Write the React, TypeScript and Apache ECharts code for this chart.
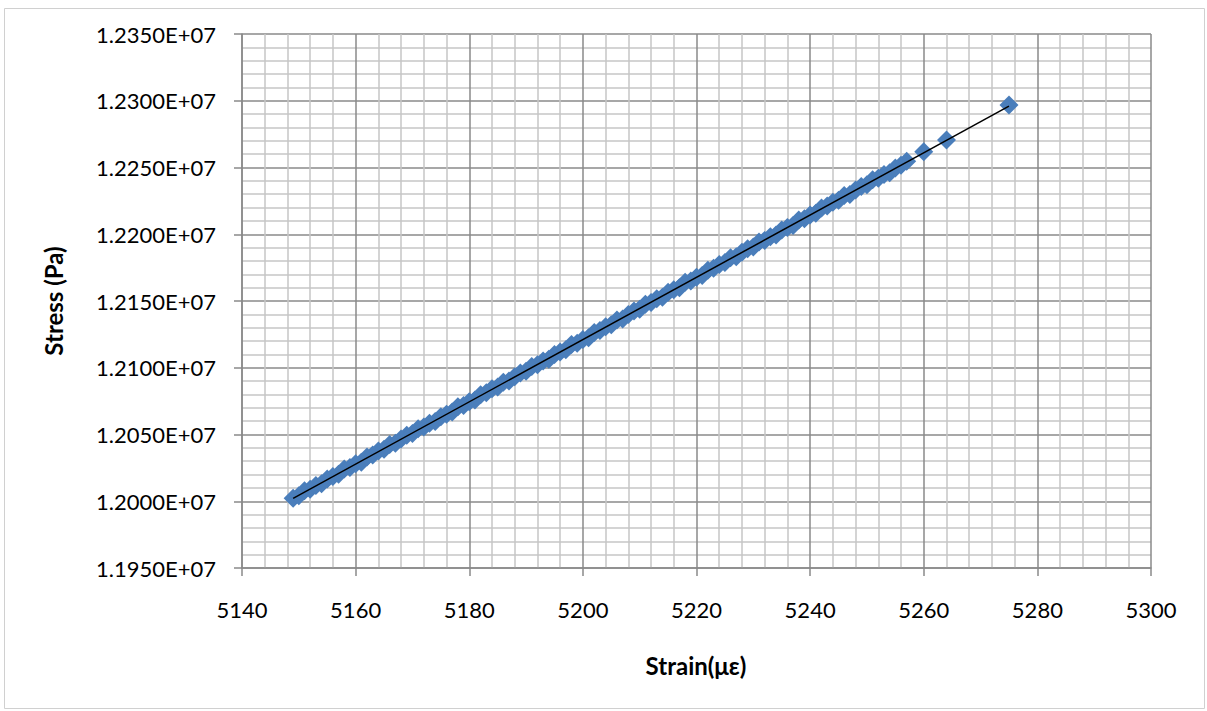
import React, { useEffect, useRef } from "react";
import * as echarts from "echarts";

const strain: number[] = [
  5149, 5150, 5151, 5152, 5153, 5154, 5155, 5156, 5157, 5158,
  5159, 5160, 5161, 5162, 5163, 5164, 5165, 5166, 5167, 5168,
  5169, 5170, 5171, 5172, 5173, 5174, 5175, 5176, 5177, 5178,
  5179, 5180, 5181, 5182, 5183, 5184, 5185, 5186, 5187, 5188,
  5189, 5190, 5191, 5192, 5193, 5194, 5195, 5196, 5197, 5198,
  5199, 5200, 5201, 5202, 5203, 5204, 5205, 5206, 5207, 5208,
  5209, 5210, 5211, 5212, 5213, 5214, 5215, 5216, 5217, 5218,
  5219, 5220, 5221, 5222, 5223, 5224, 5225, 5226, 5227, 5228,
  5229, 5230, 5231, 5232, 5233, 5234, 5235, 5236, 5237, 5238,
  5239, 5240, 5241, 5242, 5243, 5244, 5245, 5246, 5247, 5248,
  5249, 5250, 5251, 5252, 5253, 5254, 5255, 5256, 5257,
  5260, 5264, 5275,
];

const stress: number[] = [
  12002300, 12004100, 12007800, 12009000, 12011800, 12013100, 12016700, 12018600, 12020200, 12024200,
  12025200, 12028000, 12029300, 12033200, 12034700, 12037600, 12039000, 12042600, 12043400, 12046700,
  12049400, 12050700, 12054400, 12055600, 12058400, 12059700, 12063300, 12065200, 12066800, 12070800,
  12071800, 12074600, 12075900, 12079800, 12081300, 12084200, 12085600, 12089200, 12090000, 12093300,
  12096000, 12097300, 12101000, 12102200, 12105000, 12106300, 12109900, 12111800, 12113400, 12117400,
  12118400, 12121200, 12122500, 12126400, 12127900, 12130800, 12132200, 12135800, 12136600, 12139900,
  12142600, 12143900, 12147600, 12148800, 12151600, 12152900, 12156500, 12158400, 12160000, 12164000,
  12165000, 12167800, 12169100, 12173000, 12174500, 12177400, 12178800, 12182400, 12183200, 12186500,
  12189200, 12190500, 12194200, 12195400, 12198200, 12199500, 12203100, 12205000, 12206600, 12210600,
  12211600, 12214400, 12215700, 12219600, 12221100, 12224000, 12225400, 12229000, 12229800, 12233100,
  12235800, 12237100, 12240800, 12242000, 12244800, 12246100, 12249700, 12251600, 12254600,
  12261800, 12270600, 12296800,
];

// linear trend line end points
const trendStrain: number[] = [5149, 5275];
const trendStress: number[] = [12002200, 12296000];

const xMin = 5140;
const xMax = 5300;
const xStep = 20;
const yMin = 11950000;
const yMax = 12350000;
const yStep = 50000;

function sci(v: number): string {
  if (v === 0) return "0.0000E+00";
  const exp = Math.floor(Math.log10(Math.abs(v)));
  const m = v / Math.pow(10, exp);
  const e = String(Math.abs(exp)).padStart(2, "0");
  return m.toFixed(4) + "E" + (exp >= 0 ? "+" : "-") + e;
}

export default function App() {
  const ref = useRef<HTMLDivElement>(null);
  useEffect(() => {
    if (!ref.current) return;
    const chart = echarts.init(ref.current, undefined, { renderer: "svg" });
    const font = "Lato, 'Open Sans', sans-serif";
    const major = "#8a8a8a";
    const minor = "#c6c6c6";
    chart.setOption({
      animation: false,
      backgroundColor: "#ffffff",
      grid: { left: 242, right: 56, top: 34, bottom: 143, containLabel: false },
      xAxis: {
        type: "value",
        min: xMin,
        max: xMax,
        interval: xStep,
        axisLine: { show: true, lineStyle: { color: major, width: 1.5 } },
        axisTick: { show: true, length: 8, lineStyle: { color: major, width: 1.5 } },
        axisLabel: {
          color: "#000",
          fontSize: 22,
          fontFamily: font,
          margin: 30,
          formatter: (v: number) => String(v),
        },
        splitLine: { show: true, lineStyle: { color: major, width: 1.5 } },
        minorTick: { show: false, splitNumber: 5 },
        minorSplitLine: { show: true, lineStyle: { color: minor, width: 1.5 } },
      },
      yAxis: {
        type: "value",
        min: yMin,
        max: yMax,
        interval: yStep,
        axisLine: { show: true, lineStyle: { color: major, width: 1.5 } },
        axisTick: { show: true, length: 8, lineStyle: { color: major, width: 1.5 } },
        axisLabel: {
          color: "#000",
          fontSize: 22,
          fontFamily: font,
          margin: 26,
          formatter: (v: number) => sci(v),
        },
        splitLine: { show: true, lineStyle: { color: major, width: 1.5 } },
        minorTick: { show: false, splitNumber: 5 },
        minorSplitLine: { show: true, lineStyle: { color: minor, width: 1.5 } },
      },
      graphic: [
        {
          type: "rect",
          shape: { x: 4.5, y: 8.5, width: 1200, height: 700 },
          style: { fill: "none", stroke: "#d0d0d0", lineWidth: 1 },
          silent: true,
          z: -10,
        },
        {
          type: "text",
          x: 696,
          y: 665,
          style: {
            text: "Strain(με)",
            fill: "#000",
            font: "bold 24px " + font,
            textAlign: "center",
            textVerticalAlign: "middle",
          },
        },
        {
          type: "text",
          x: 53,
          y: 301,
          rotation: Math.PI / 2,
          style: {
            text: "Stress (Pa)",
            fill: "#000",
            font: "bold 24px " + font,
            textAlign: "center",
            textVerticalAlign: "middle",
          },
        },
      ],
      series: [
        {
          type: "scatter",
          symbol: "diamond",
          symbolSize: 19,
          itemStyle: { color: "#4A7EBB", opacity: 1 },
          data: strain.map((x, i) => [x, stress[i]]),
          z: 2,
        },
        {
          type: "line",
          symbol: "none",
          lineStyle: { color: "#000", width: 1.5 },
          data: trendStrain.map((x, i) => [x, trendStress[i]]),
          z: 3,
        },
      ],
    });
    return () => chart.dispose();
  }, []);
  return (
    <div
      ref={ref}
      style={{ position: "fixed", left: 0, top: 0, width: 1207, height: 711 }}
    />
  );
}
